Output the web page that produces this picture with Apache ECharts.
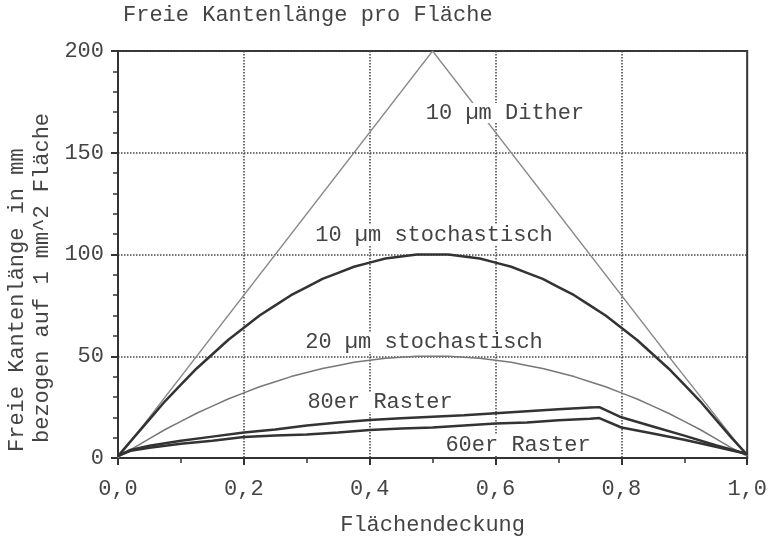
<!DOCTYPE html>
<html>
<head>
<meta charset="utf-8">
<script src="https://cdn.jsdelivr.net/npm/echarts@6/dist/echarts.min.js"></script>
<style>html,body{margin:0;padding:0;background:#fff}#c{width:770px;height:541px}</style>
</head>
<body>
<div id="c"></div>
<script>
// x positions for stochastic curves (0.025 steps)
const xsStoch = [0,0.025,0.05,0.075,0.1,0.125,0.15,0.175,0.2,0.225,0.25,0.275,0.3,0.325,0.35,0.375,0.4,0.425,0.45,0.475,0.5,0.525,0.55,0.575,0.6,0.625,0.65,0.675,0.7,0.725,0.75,0.775,0.8,0.825,0.85,0.875,0.9,0.925,0.95,0.975,1.0];
const stoch10 = [1,10,19,28,36,44,51,58,64,70,75,80,84,88,91,94,96,98,99,100,100,100,99,98,96,94,91,88,84,80,75,70,64,58,51,44,36,28,19,10,1.5];
const stoch20 = [0.5,5,9.5,14,18,22,25.5,29,32,35,37.5,40,42,44,45.5,47,48,49,49.5,50,50,50,49.5,49,48,47,45.5,44,42,40,37.5,35,32,29,25.5,22,18,14,9.5,5,1];
// dither
const xsDither = [0,0.125,0.25,0.375,0.5,0.625,0.75,0.875,1.0];
const dither10 = [0,50,100,150,200,150,100,50,1];
// raster curves
const xsRaster = [0,0.02,0.05,0.1,0.15,0.2,0.25,0.3,0.35,0.4,0.45,0.5,0.55,0.6,0.65,0.7,0.75,0.765,0.8,0.85,0.9,0.95,1.0];
const raster80 = [1,4,6,8.5,10.5,12.5,14,16,17.5,18.7,19.5,20.3,21,22,23,24,24.8,25,20,15.5,11,6.3,2];
const raster60 = [1,3.5,5,7,8.5,10.3,11,11.5,12.5,13.8,14.5,15,16,17,17.5,18.5,19.3,19.6,15,12,9,5.5,2];
// tick labels / texts
const titleText = 'Freie Kantenlänge pro Fläche';
const xName = 'Flächendeckung';
const yName1 = 'Freie Kantenlänge in mm';
const yName2 = 'bezogen auf 1 mm^2 Fläche';
const seriesNames = ['10 µm Dither','10 µm stochastisch','20 µm stochastisch','80er Raster','60er Raster'];

const FONT = "'Liberation Mono','Courier New',monospace";
const TXT = '#444';
const pairs = (xs, ys) => xs.map((x, i) => [x, ys[i]]);

const chart = echarts.init(document.getElementById('c'));
function lbl(text, cx, cy) {
  return {type:'text', x:cx, y:cy, z:100, silent:true,
    style:{text:text, fontFamily:FONT, fontSize:22, lineHeight:20, fill:TXT, align:'center', verticalAlign:'middle',
      backgroundColor:'#fff', padding:[0,2]}};
}
chart.setOption({
  animation:false,
  backgroundColor:'#fff',
  title:{text:titleText, left:123, top:4, padding:0,
    textStyle:{fontFamily:FONT, fontSize:22, fontWeight:'normal', color:TXT}},
  grid:{left:118, right:20, top:51, bottom:83, show:true, borderColor:'#333', borderWidth:2, backgroundColor:'transparent'},
  xAxis:{type:'value', min:0, max:1, interval:0.2,
    name:xName, nameLocation:'middle', nameGap:56,
    nameTextStyle:{fontFamily:FONT, fontSize:22, color:TXT},
    axisLine:{show:true, onZero:false, lineStyle:{color:'#333', width:2}},
    axisTick:{show:true, length:7, lineStyle:{color:'#333', width:2}},
    minorTick:{show:true, splitNumber:2, length:5, lineStyle:{color:'#333', width:1.5}},
    axisLabel:{margin:20, fontFamily:FONT, fontSize:22, color:TXT,
      formatter:v => v.toFixed(1).replace('.', ',')},
    splitLine:{show:true, lineStyle:{color:'#444', type:'dotted', width:1.5}}
  },
  yAxis:{type:'value', min:0, max:200, interval:50,
    axisLine:{show:true, lineStyle:{color:'#333', width:2}},
    axisTick:{show:true, length:7, lineStyle:{color:'#333', width:2}},
    minorTick:{show:true, splitNumber:5, length:5, lineStyle:{color:'#333', width:1.5}},
    axisLabel:{margin:14, fontFamily:FONT, fontSize:22, color:TXT},
    splitLine:{show:true, lineStyle:{color:'#444', type:'dotted', width:1.5}}
  },
  series:[
    {name:seriesNames[0], type:'line', data:pairs(xsDither, dither10), showSymbol:false,
      lineStyle:{color:'#8a8a8a', width:1.3}},
    {name:seriesNames[1], type:'line', data:pairs(xsStoch, stoch10), showSymbol:false,
      lineStyle:{color:'#333', width:2.5}},
    {name:seriesNames[2], type:'line', data:pairs(xsStoch, stoch20), showSymbol:false,
      lineStyle:{color:'#777', width:1.5}},
    {name:seriesNames[3], type:'line', data:pairs(xsRaster, raster80), showSymbol:false,
      lineStyle:{color:'#333', width:2.5}},
    {name:seriesNames[4], type:'line', data:pairs(xsRaster, raster60), showSymbol:false,
      lineStyle:{color:'#333', width:2.5}}
  ],
  graphic:[
    {type:'text', x:17, y:452, rotation:Math.PI/2, z:100, silent:true,
      style:{text:yName1, fontFamily:FONT, fontSize:22, fill:TXT, align:'left', verticalAlign:'middle'}},
    {type:'text', x:42, y:443, rotation:Math.PI/2, z:100, silent:true,
      style:{text:yName2, fontFamily:FONT, fontSize:22, fill:TXT, align:'left', verticalAlign:'middle'}},
    lbl(seriesNames[0], 505, 113),
    lbl(seriesNames[1], 434, 235),
    lbl(seriesNames[2], 424, 342),
    lbl(seriesNames[3], 380, 402),
    lbl(seriesNames[4], 518, 445)
  ]
});
</script>
</body>
</html>
